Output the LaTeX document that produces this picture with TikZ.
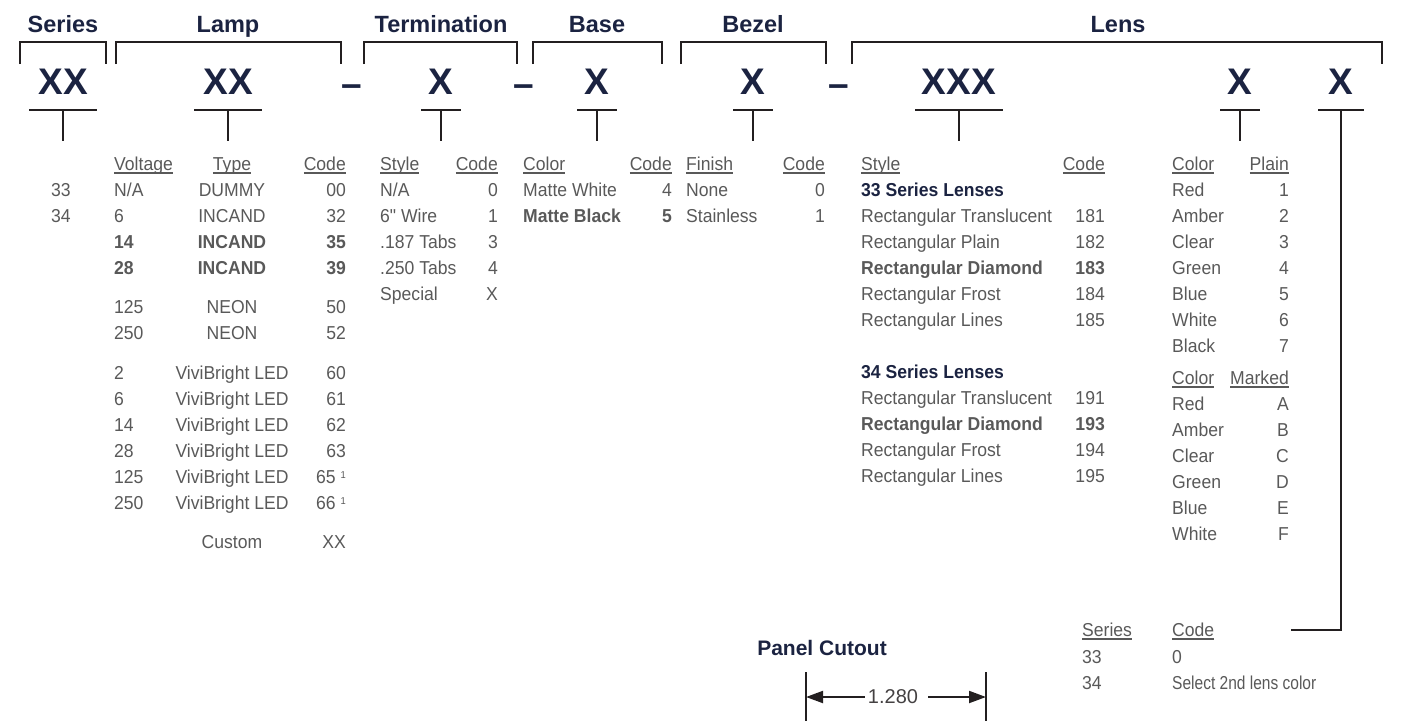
\documentclass[tikz,border=0pt]{standalone}
\usepackage{fontspec}
\setmainfont{Liberation Sans}
\newfontfamily\bodyfont{Liberation Sans}[FakeStretch=0.94, Ligatures=TeXOff]
\newfontfamily\narrowfont{Liberation Sans}[FakeStretch=0.83]
\usetikzlibrary{arrows.meta,positioning}
\definecolor{navy}{HTML}{1B2341}
\definecolor{txtgray}{HTML}{595959}
\definecolor{ink}{HTML}{231F20}
\newcommand{\colhd}[1]{\setbox0\hbox{#1}\rlap{\rule[-3pt]{\wd0}{1.4pt}}\box0}
\newcommand{\fnote}{\hspace{5pt}{\fontsize{10}{10}\selectfont\raisebox{5pt}{1}}}

\begin{document}
\begin{tikzpicture}[x=1pt,y=-1pt,
    grouphd/.style={font=\fontsize{23.5}{26}\selectfont\bfseries, text=navy, inner sep=0pt, anchor=base},
    partno/.style={font=\fontsize{37}{40}\selectfont\bfseries, text=navy, inner sep=0pt, anchor=base},
    celltxt/.style={font=\bodyfont\fontsize{18.7}{20}\selectfont, text=txtgray, inner sep=0pt},
    cellbold/.style={celltxt, font=\bodyfont\fontsize{18.7}{20}\selectfont\bfseries},
    serieshd/.style={celltxt, font=\bodyfont\fontsize{18.7}{20}\selectfont\bfseries, text=navy},
    bracket/.style={draw=ink, line width=2.4pt},
    partline/.style={draw=ink, line width=2.8pt},
    partstem/.style={draw=ink, line width=2.2pt},
    dimline/.style={draw=ink, line width=2pt},
    ]
\useasboundingbox (0,0) rectangle (1427,721);

% group headers and brackets
\foreach \nm/\x/\t in {ser/63/Series,lamp/228/Lamp,term/441/Termination,base/597/Base,bez/753/Bezel,lens/1118/Lens}
    \node[grouphd] (hd-\nm) at (\x,32.5) {\t};
\foreach \a/\b in {20/106,116/341,364/517,533/662,681/826,852/1382}
    \draw[bracket] (\a,64) |- (\b,42) -- (\b,64);

% part number
\foreach \nm/\x/\t in {ser/63/XX,lamp/228/XX,term/441/X,base/597/X,bez/753/X,lens/959/XXX,col/1240/X,sec/1341/X}
    \node[partno] (pn-\nm) at (\x,94) {\t};
\foreach \i/\x in {1/352,2/524,3/839}
    \node[partno] (dash-\i) at (\x,96) {–};
\foreach \nm/\w in {ser/34,lamp/34,term/20,base/20,bez/20,lens/44,col/20,sec/23}
    \draw[partline] (pn-\nm.base) ++(-\w,16) -- ++(2*\w,0);
\foreach \nm in {ser,lamp,term,base,bez,lens,col}
    \draw[partstem] (pn-\nm.base) ++(0,16) -- ++(0,31);
\coordinate (pick2nd) at (1291,630);
\draw[partstem] (pn-sec.base) ++(0,16) |- (pick2nd);

% column headers
\foreach \x/\t/\a [count=\i] in {114/Voltage/base west,232/Type/base,346/Code/base east,
    380/Style/base west,498/Code/base east,523/Color/base west,672/Code/base east,
    686/Finish/base west,825/Code/base east,861/Style/base west,1105/Code/base east,
    1172/Color/base west,1289/Plain/base east}
    \node[celltxt, anchor=\a] (ch-\i) at (\x,170.5) {\colhd{\t}};
\node[celltxt, anchor=base west] (ch-mcol) at (1172,384.5) {\colhd{Color}};
\node[celltxt, anchor=base east] (ch-mark) at (1289,384.5) {\colhd{Marked}};

% series
\node[celltxt, anchor=base west] (sv-33) at (51,196) {33};
\node[celltxt, anchor=base west] (sv-34) at (51,222) {34};

% lamp
\foreach \y/\v/\t/\c/\s [count=\i] in {196/{N/A}/DUMMY/00/celltxt,222/6/INCAND/32/celltxt,
    248/14/INCAND/35/cellbold,274/28/INCAND/39/cellbold,313/125/NEON/50/celltxt,339/250/NEON/52/celltxt,
    379/2/ViviBright LED/60/celltxt,405/6/ViviBright LED/61/celltxt,431/14/ViviBright LED/62/celltxt,
    457/28/ViviBright LED/63/celltxt,483/125/ViviBright LED/65\fnote/celltxt,
    509/250/ViviBright LED/66\fnote/celltxt,548/{}/Custom/XX/celltxt}
{
    \node[\s, anchor=base west] (volt-\i) at (114,\y) {\v};
    \node[\s, anchor=base] (type-\i) at (232,\y) {\t};
    \node[\s, anchor=base east] (lcode-\i) at (346,\y) {\c};
}

% termination
\foreach \y/\t/\c [count=\i] in {196/{N/A}/0,222/6" Wire/1,248/.187 Tabs/3,274/.250 Tabs/4,300/Special/X}
{
    \node[celltxt, anchor=base west] (tsty-\i) at (380,\y) {\t};
    \node[celltxt, anchor=base east] (tcode-\i) at (498,\y) {\c};
}

% base and bezel
\foreach \y/\t/\c/\s [count=\i] in {196/Matte White/4/celltxt,222/Matte Black/5/cellbold}
{
    \node[\s, anchor=base west] (bcol-\i) at (523,\y) {\t};
    \node[\s, anchor=base east] (bcode-\i) at (672,\y) {\c};
}
\foreach \y/\t/\c [count=\i] in {196/None/0,222/Stainless/1}
{
    \node[celltxt, anchor=base west] (zfin-\i) at (686,\y) {\t};
    \node[celltxt, anchor=base east] (zcode-\i) at (825,\y) {\c};
}

% lens style
\node[serieshd, anchor=base west] (lens33) at (861,196) {33 Series Lenses};
\node[serieshd, anchor=base west] (lens34) at (861,378) {34 Series Lenses};
\foreach \y/\t/\c/\s [count=\i] in {222/Rectangular Translucent/181/celltxt,248/Rectangular Plain/182/celltxt,
    274/Rectangular Diamond/183/cellbold,300/Rectangular Frost/184/celltxt,326/Rectangular Lines/185/celltxt,
    404/Rectangular Translucent/191/celltxt,430/Rectangular Diamond/193/cellbold,
    456/Rectangular Frost/194/celltxt,482/Rectangular Lines/195/celltxt}
{
    \node[\s, anchor=base west] (lsty-\i) at (861,\y) {\t};
    \node[\s, anchor=base east] (lcod-\i) at (1105,\y) {\c};
}

% lens colour
\foreach \t/\c [count=\i from 0] in {Red/1,Amber/2,Clear/3,Green/4,Blue/5,White/6,Black/7}
{
    \node[celltxt, anchor=base west] (pcol-\c) at (1172,{196+26*\i}) {\t};
    \node[celltxt, anchor=base east] (pcod-\c) at (1289,{196+26*\i}) {\c};
}
\foreach \t/\c [count=\i from 0] in {Red/A,Amber/B,Clear/C,Green/D,Blue/E,White/F}
{
    \node[celltxt, anchor=base west] (mcol-\c) at (1172,{410+26*\i}) {\t};
    \node[celltxt, anchor=base east] (mcod-\c) at (1289,{410+26*\i}) {\c};
}

% second lens colour
\node[celltxt, anchor=base west] (sl-hd) at (1082,636.5) {\colhd{Series}};
\node[celltxt, anchor=base west] (sl-cd) at (1172,636.5) {\colhd{Code}};
\node[celltxt, anchor=base west] (sl-33) at (1082,663) {33};
\node[celltxt, anchor=base west] (sl-0) at (1172,663) {0};
\node[celltxt, anchor=base west] (sl-34) at (1082,689) {34};
\node[celltxt, anchor=base west] (sl-sel) at (1172,689) {\narrowfont Select 2nd lens color};

% panel cutout
\node[grouphd, font=\fontsize{21}{24}\selectfont\bfseries] (panel) at (822,655.5) {Panel Cutout};
\draw[dimline] (806,672) -- (806,721);
\draw[dimline] (986,672) -- (986,721);
\coordinate (cutL) at (806,697);
\coordinate (cutR) at (986,697);
\node[celltxt, font=\fontsize{20}{22}\selectfont, text=ink!85, inner xsep=3pt] (cut) at (893,697) {1.280};
\draw[dimline, -{Triangle[length=17pt,width=12pt]}] (cut.west) -- (cutL);
\draw[dimline, -{Triangle[length=17pt,width=12pt]}] ([xshift=7pt]cut.east) -- (cutR);

\end{tikzpicture}
\end{document}
